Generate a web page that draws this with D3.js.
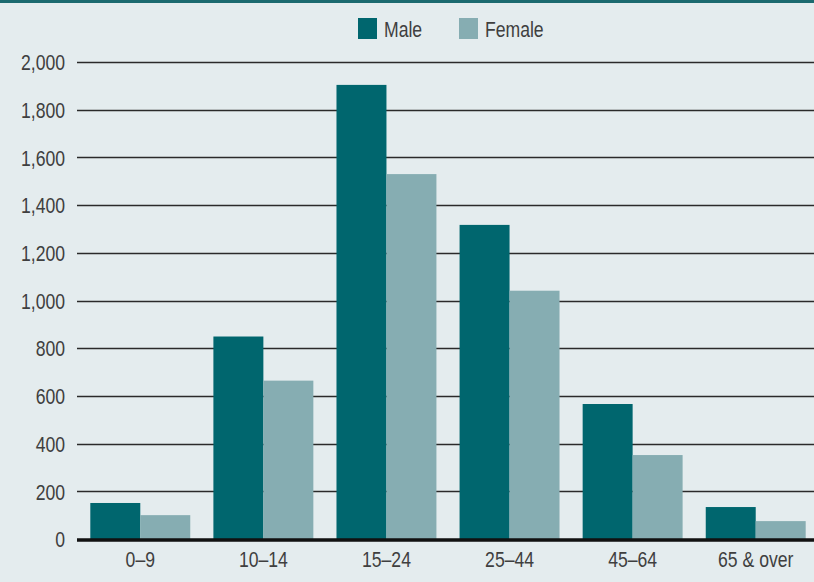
<!DOCTYPE html>
<html>
<head>
<meta charset="utf-8">
<script src="https://cdn.jsdelivr.net/npm/d3@7"></script>
<style>
  body { margin: 0; background: #e4ecee; }
  svg { display: block; }
  text { font-family: "Liberation Sans", Arial, sans-serif; fill: #3f3f3f; }
</style>
</head>
<body>
<div id="chart"></div>
<script>
  // Data
  const categories = ["0–9", "10–14", "15–24", "25–44", "45–64", "65 & over"];
  const series = ["Male", "Female"];
  const maleValues = [151, 849, 1904, 1317, 566, 134];
  const femaleValues = [100, 664, 1530, 1041, 352, 75];
  const yTicks = [0, 200, 400, 600, 800, 1000, 1200, 1400, 1600, 1800, 2000];

  const width = 814, height = 582;
  const colors = { Male: "#00666e", Female: "#86adb2" };
  const squeeze = "scale(0.8,1)"; // the original type is a narrow face

  const svg = d3.select("#chart")
    .append("svg")
    .attr("width", width)
    .attr("height", height);

  svg.append("rect")
    .attr("width", width).attr("height", height)
    .attr("fill", "#e4ecee");

  // top rule
  svg.append("rect")
    .attr("x", 0).attr("y", 0)
    .attr("width", width).attr("height", 3)
    .attr("fill", "#1b6a6f");

  // Scales
  const x0 = d3.scaleBand().domain(categories)
    .range([78, 818])
    .paddingInner(0.188)
    .paddingOuter(0.1);
  const x1 = d3.scaleBand().domain(series).range([0, x0.bandwidth()]);
  const y = d3.scaleLinear().domain([0, 2000]).range([539, 62]);

  // Gridlines
  svg.append("g")
    .selectAll("line")
    .data(yTicks.filter(d => d > 0))
    .enter()
    .append("line")
    .attr("x1", 77).attr("x2", width)
    .attr("y1", d => Math.round(y(d)) + 0.5)
    .attr("y2", d => Math.round(y(d)) + 0.5)
    .attr("stroke", "#2a2a2a")
    .attr("stroke-width", 1.3);

  // Y axis labels
  const yAxis = svg.append("g")
    .attr("transform", "translate(65,0) " + squeeze)
    .call(d3.axisLeft(y).tickValues(yTicks).tickSize(0).tickPadding(0).tickFormat(d3.format(",")));
  yAxis.select(".domain").remove();
  yAxis.selectAll("text")
    .style("font-size", "22px")
    .attr("dy", "0.35em");

  // Bars
  const rows = categories.map((c, i) => ({ cat: c, Male: maleValues[i], Female: femaleValues[i] }));
  svg.append("g")
    .selectAll("g")
    .data(rows)
    .enter()
    .append("g")
    .attr("transform", d => `translate(${x0(d.cat)},0)`)
    .selectAll("rect")
    .data(d => series.map(s => ({ key: s, value: d[s] })))
    .enter()
    .append("rect")
    .attr("x", d => x1(d.key))
    .attr("y", d => y(d.value))
    .attr("width", x1.bandwidth())
    .attr("height", d => y(0) - y(d.value))
    .attr("fill", d => colors[d.key]);

  // Baseline
  svg.append("line")
    .attr("x1", 77).attr("x2", width)
    .attr("y1", y(0) + 1).attr("y2", y(0) + 1)
    .attr("stroke", "#111")
    .attr("stroke-width", 3.5);

  // X axis labels
  const xAxis = svg.append("g")
    .attr("transform", `translate(0,${y(0)})`)
    .call(d3.axisBottom(x0).tickSize(0).tickPadding(10));
  xAxis.select(".domain").remove();
  xAxis.selectAll("text")
    .style("font-size", "22px")
    .attr("dy", "0.8em")
    .attr("transform", squeeze);

  // Legend
  const legendItems = [
    { key: "Male", x: 358 },
    { key: "Female", x: 459 }
  ];
  const legend = svg.append("g")
    .selectAll("g")
    .data(legendItems)
    .enter()
    .append("g")
    .attr("transform", d => `translate(${d.x},18)`);
  legend.append("rect")
    .attr("width", 19).attr("height", 21)
    .attr("fill", d => colors[d.key]);
  legend.append("g")
    .attr("transform", "translate(26,11) " + squeeze)
    .append("text")
    .attr("dy", "0.35em")
    .style("font-size", "22px")
    .text(d => d.key);
</script>
</body>
</html>
